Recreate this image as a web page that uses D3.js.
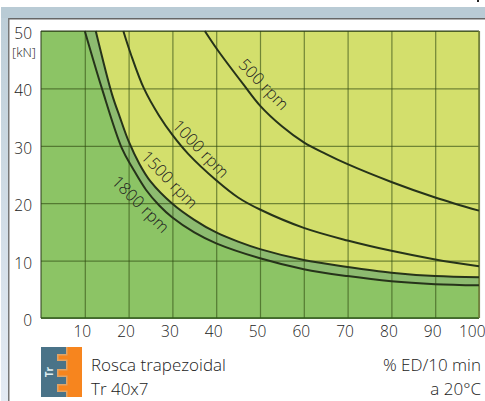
<!DOCTYPE html>
<html>
  <head>
    <meta charset="utf-8" />
    <title>Rosca trapezoidal Tr 40x7</title>
    <script src="https://cdnjs.cloudflare.com/ajax/libs/d3/7.8.5/d3.min.js"></script>
    <style>
      html, body { margin: 0; padding: 0; background: #fff; overflow: hidden; }
      svg { display: block; }
      text { font-family: "Open Sans", sans-serif; font-weight: 300; fill: #222; }
    </style>
  </head>
  <body>
    <div id="chart"></div>
    <script>
      // values: [% ED, kN]
      const curve500 = [[37.4, 50], [40.4, 46.6], [46.3, 40.6], [50, 37], [55, 33.4], [60, 30.6], [65, 28.6], [70, 26.8], [80, 23.7], [90, 21], [100, 18.7]];
      const curve1000 = [[18.8, 50], [20.5, 46], [23.5, 40], [27, 35.2], [30, 31.9], [33.6, 28.6], [40, 24], [45, 21], [50, 18.9], [60, 15.7], [70, 13.5], [80, 11.7], [90, 10.2], [100, 9]];
      const curve1500 = [[12.5, 50], [16.2, 39], [18, 35], [20, 30.8], [22.5, 26.8], [25, 23.8], [30, 19.9], [35, 17.1], [40, 14.9], [45, 13.3], [50, 12], [60, 10.1], [70, 8.9], [80, 7.9], [90, 7.3], [100, 7.1]];
      const curve1800 = [[10, 50], [13.9, 40], [18.5, 29.5], [21, 26], [24, 22.3], [27, 19.6], [30, 17.5], [35, 14.9], [40, 13], [50, 10.4], [60, 8.5], [70, 7.3], [80, 6.4], [90, 5.9], [100, 5.7]];

      const curves = [curve500, curve1000, curve1500, curve1800];
      const curveLabels = ["500 rpm", "1000 rpm", "1500 rpm", "1800 rpm"];
      const labelX = [49.9, 35.5, 28.4, 21.8];
      const labelY = [40, 28.8, 23.4, 19.1];
      const labelAngle = [46, 46, 46, 45];

      const xTicks = [10, 20, 30, 40, 50, 60, 70, 80, 90, 100];
      const yTicks = [0, 10, 20, 30, 40, 50];

      const svg = d3.select("#chart").append("svg").attr("width", 485).attr("height", 401);

      // page furniture: blue band and frame
      const defs = svg.append("defs");
      const fade = defs.append("linearGradient").attr("id", "fade").attr("x1", 0).attr("x2", 0).attr("y1", 0).attr("y2", 1);
      fade.append("stop").attr("offset", 0).attr("stop-color", "#bccdd7");
      fade.append("stop").attr("offset", 1).attr("stop-color", "#e4ebf4");

      svg.append("rect").attr("x", 1).attr("y", 7).attr("width", 7).attr("height", 394).attr("fill", "url(#fade)");
      svg.append("rect").attr("x", 1).attr("y", 7).attr("width", 484).attr("height", 11).attr("fill", "#b9cbd5");
      svg.append("rect").attr("x", 8).attr("y", 18).attr("width", 477).attr("height", 1.5).attr("fill", "#666");
      svg.append("rect").attr("x", 8).attr("y", 18).attr("width", 1.5).attr("height", 383).attr("fill", "#777");
      svg.append("rect").attr("x", 477).attr("y", 0).attr("width", 2).attr("height", 2).attr("fill", "#222");

      const x = d3.scaleLinear().domain([0, 100]).range([41, 479]);
      const y = d3.scaleLinear().domain([0, 50]).range([318, 31]);

      const line = d3.line().x((d) => x(d[0])).y((d) => y(d[1])).curve(d3.curveCatmullRom.alpha(0.5));

      // zones
      svg.append("rect")
        .attr("x", x(0)).attr("y", y(50))
        .attr("width", x(100) - x(0)).attr("height", y(0) - y(50))
        .attr("fill", "#d3df6c");

      const corner = `L${x(100)},${y(0)}L${x(0)},${y(0)}L${x(0)},${y(50)}Z`;
      svg.append("path").attr("d", line(curve1500) + corner).attr("fill", "#8dbb70");
      svg.append("path").attr("d", line(curve1800) + corner).attr("fill", "#8cc465");

      // axes double as the grid
      const xAxis = svg.append("g")
        .attr("transform", `translate(0,${y(0)})`)
        .call(d3.axisBottom(x).tickValues(xTicks).tickSize(y(50) - y(0)).tickPadding(0));
      xAxis.select(".domain").remove();
      xAxis.selectAll("line").attr("stroke", "#2f4a10").attr("stroke-opacity", 0.6).attr("stroke-width", 1.2);
      xAxis.selectAll("text")
        .attr("y", 19).attr("dy", 0).attr("dx", -3)
        .attr("font-size", 15.5).style("font-family", '"Open Sans", sans-serif');
      // last label would run off the page
      xAxis.selectAll("text").filter((d) => d === 100)
        .attr("text-anchor", "end").attr("x", 6).attr("dx", 0);

      const yAxis = svg.append("g")
        .attr("transform", `translate(${x(0)},0)`)
        .call(d3.axisLeft(y).tickValues(yTicks).tickSize(x(0) - x(100)).tickPadding(9));
      yAxis.select(".domain").remove();
      yAxis.selectAll("line").attr("stroke", "#2f4a10").attr("stroke-opacity", 0.6).attr("stroke-width", 1.2);
      yAxis.selectAll("text")
        .attr("dy", 7.5)
        .attr("font-size", 15.5).style("font-family", '"Open Sans", sans-serif');

      svg.append("text").attr("x", 12).attr("y", 57).attr("font-size", 13).text("[kN]");

      // frame of the plot
      svg.append("path")
        .attr("d", `M${x(0)},${y(0)}V${y(50)}H${x(100)}`)
        .attr("fill", "none").attr("stroke", "#2a3a1a").attr("stroke-width", 1);
      svg.append("path")
        .attr("d", `M${x(0)},${y(0)}H${x(100)}`)
        .attr("fill", "none").attr("stroke", "#2f5a1a").attr("stroke-width", 1.5);
      svg.append("path")
        .attr("d", `M${x(100)},${y(0)}V${y(50)}`)
        .attr("fill", "none").attr("stroke", "#6d7a35").attr("stroke-width", 1.5);

      // rpm curves
      svg.selectAll(".curve")
        .data(curves)
        .join("path")
        .attr("class", "curve")
        .attr("d", line)
        .attr("fill", "none")
        .attr("stroke", "#26331a")
        .attr("stroke-width", 2);

      svg.selectAll(".curve-label")
        .data(curveLabels)
        .join("text")
        .attr("class", "curve-label")
        .attr("text-anchor", "middle")
        .attr("font-size", 16.5)
        .attr("transform", (d, i) => `translate(${x(labelX[i])},${y(labelY[i])}) rotate(${labelAngle[i]})`)
        .text((d) => d);

      // thread icon
      const icon = svg.append("g").attr("transform", "translate(41,347)");
      const threadEdge = "V7H16V14H25V22H16V30H25V37H16V45H25V50";
      icon.append("rect").attr("width", 41).attr("height", 50).attr("fill", "#f7851e");
      icon.append("path")
        .attr("d", `M25,0${threadEdge}`)
        .attr("fill", "none").attr("stroke", "#e0a468").attr("stroke-width", 3);
      icon.append("path")
        .attr("d", `M0,0H25${threadEdge}H0Z`)
        .attr("fill", "#4a7388");
      icon.append("text")
        .attr("transform", "translate(12,25) rotate(-90)")
        .attr("text-anchor", "middle")
        .attr("font-size", 10)
        .style("font-weight", 700)
        .style("fill", "#dfeef2")
        .text("Tr");

      // captions
      svg.append("text").attr("x", 91).attr("y", 371).attr("font-size", 17).text("Rosca trapezoidal");
      svg.append("text").attr("x", 91).attr("y", 395).attr("font-size", 17).text("Tr 40x7");
      svg.append("text").attr("x", 481).attr("y", 371).attr("text-anchor", "end").attr("font-size", 17).text("% ED/10 min");
      svg.append("text").attr("x", 481).attr("y", 395).attr("text-anchor", "end").attr("font-size", 17).text("a 20°C");
    </script>
  </body>
</html>
